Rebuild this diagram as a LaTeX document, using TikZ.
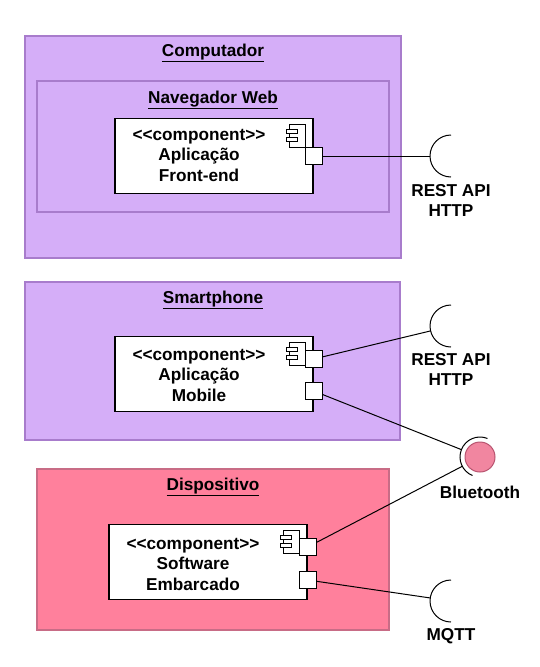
\documentclass[tikz,border=0pt]{standalone}
\usepackage{fontspec}
\setmainfont{Liberation Sans}[Ligatures=TeXOff]
\definecolor{devFill}{RGB}{213,174,248}
\definecolor{devLine}{RGB}{168,124,204}
\definecolor{hwFill}{RGB}{255,128,156}
\definecolor{hwLine}{RGB}{200,108,134}
\definecolor{ballFill}{RGB}{241,134,160}
\definecolor{ballLine}{RGB}{184,84,112}

\begin{document}
\begin{tikzpicture}[x=1pt,y=-1pt,
    box node/.style={rectangle,draw=devLine,fill=devFill,line width=1.2pt,inner sep=0pt},
    hw node/.style={rectangle,draw=hwLine,fill=hwFill,line width=1.2pt,inner sep=0pt},
    comp node/.style={rectangle,draw,fill=white,line width=1.5pt,minimum width=198pt,minimum height=75pt,inner sep=0pt},
    port node/.style={rectangle,draw,fill=white,line width=1pt,minimum size=17pt,inner sep=0pt},
    sock node/.style={circle,minimum size=42pt,inner sep=0pt},
    ball node/.style={circle,draw=ballLine,fill=ballFill,line width=1pt,minimum size=30pt,inner sep=0pt},
    text node/.style={align=center,inner sep=0pt,font=\fontsize{17.2pt}{20.5pt}\selectfont\bfseries},
    conn line/.style={line width=1pt}]
    \useasboundingbox (0,0) rectangle (540,667);
    % Computador
    \node[box node,minimum width=376pt,minimum height=222pt] (pc) at (213,147) {};
    \node[text node] (pcTitle) at (213,53) {\underline{Computador}};
    \node[box node,minimum width=352pt,minimum height=131pt] (web) at (213,146.5) {};
    \node[text node] (webTitle) at (213,100) {\underline{Navegador Web}};
    \node[comp node] (front) at (214,156) {};
    \node[text node] (frontTxt) at (199,155) {<{}<component>{}>\\Aplicação\\Front-end};
    % Smartphone
    \node[box node,minimum width=375pt,minimum height=158pt] (phone) at (212.5,361) {};
    \node[text node] (phoneTitle) at (213,300) {\underline{Smartphone}};
    \node[comp node] (mobile) at (214,374) {};
    \node[text node] (mobileTxt) at (199,375) {<{}<component>{}>\\Aplicação\\Mobile};
    % Dispositivo
    \node[hw node,minimum width=352pt,minimum height=161pt] (device) at (213,549.5) {};
    \node[text node] (deviceTitle) at (213,487) {\underline{Dispositivo}};
    \node[comp node] (soft) at (208,562) {};
    \node[text node] (softTxt) at (193,564) {<{}<component>{}>\\Software\\Embarcado};
    % component icons
    \foreach \c in {front,mobile,soft} {
        \draw[line width=1pt] ([shift={(-24pt,-7pt)}]\c.north east) rectangle ++(16pt,-23pt);
        \draw[line width=1pt,fill=white] ([shift={(-27pt,-12pt)}]\c.north east) rectangle ++(11pt,-4pt);
        \draw[line width=1pt,fill=white] ([shift={(-27pt,-20pt)}]\c.north east) rectangle ++(11pt,-4pt);
    }
    % ports
    \node[port node] (frontPort) at (front.east) {};
    \node[port node] (mobPortA) at ([yshift=15pt]mobile.east) {};
    \node[port node] (mobPortB) at ([yshift=-17pt]mobile.east) {};
    \node[port node] (softPortA) at ([yshift=15pt]soft.east) {};
    \node[port node] (softPortB) at ([yshift=-18pt]soft.east) {};
    % sockets
    \node[sock node] (restPc) at (451,156) {};
    \node[sock node] (restMob) at (451,326) {};
    \node[sock node] (mqtt) at (451,601) {};
    \node[sock node,minimum size=40pt] (btSock) at (480,457) {};
    \node[ball node] (btBall) at (btSock.center) {};
    \foreach \s in {restPc,restMob,mqtt}
        \draw[conn line] ([shift={(90:21pt)}]\s.center) arc[start angle=90,end angle=270,radius=21pt];
    \draw[conn line] ([shift={(68:20pt)}]btSock.center) arc[start angle=68,end angle=248,radius=20pt];
    \path[conn line]
    (frontPort) edge (restPc)
    (mobPortA) edge (restMob)
    (mobPortB) edge (btSock)
    (softPortA) edge (btSock)
    (softPortB) edge (mqtt);
    % labels
    \node[text node] (restPcTxt) at (451,200.5) {REST API\\HTTP};
    \node[text node] (restMobTxt) at (451,369.5) {REST API\\HTTP};
    \node[text node] (btTxt) at (480,492) {Bluetooth};
    \node[text node] (mqttTxt) at (451,636) {MQTT};
\end{tikzpicture}
\end{document}
